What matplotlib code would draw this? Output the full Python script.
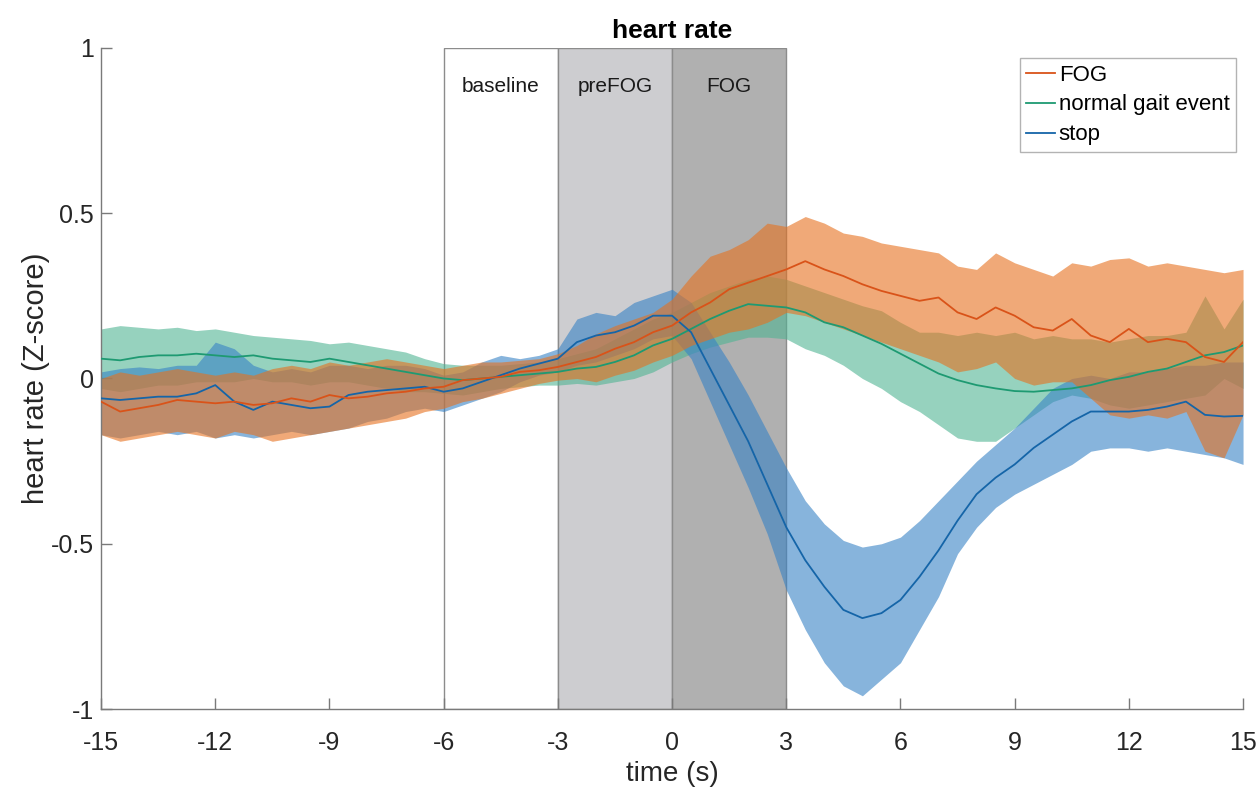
import numpy as np
import matplotlib
matplotlib.use("Agg")
import matplotlib.pyplot as plt

plt.rcParams['font.family'] = ['Liberation Sans', 'DejaVu Sans']

# time grid of the traces (s)
t = np.arange(-15, 15.5, 0.5)

# FOG (orange): mean and band edges
fog_mean = [-0.07, -0.10, -0.09, -0.08, -0.065, -0.07, -0.075, -0.07, -0.08, -0.075,
            -0.06, -0.07, -0.05, -0.06, -0.055, -0.045, -0.04, -0.03, -0.025, -0.005,
            0.0, 0.005, 0.02, 0.025, 0.035, 0.05, 0.065, 0.09, 0.11, 0.14,
            0.16, 0.2, 0.23, 0.27, 0.29, 0.31, 0.33, 0.355, 0.33, 0.31,
            0.285, 0.265, 0.25, 0.235, 0.245, 0.2, 0.18, 0.215, 0.19, 0.155,
            0.145, 0.18, 0.13, 0.11, 0.15, 0.11, 0.12, 0.11, 0.065, 0.05, 0.11]
fog_hi = [0.0, 0.02, 0.01, 0.02, 0.03, 0.02, 0.01, 0.02, 0.01, 0.03,
          0.04, 0.03, 0.05, 0.04, 0.05, 0.06, 0.05, 0.04, 0.03, 0.04,
          0.05, 0.05, 0.055, 0.06, 0.075, 0.10, 0.135, 0.16, 0.18, 0.20,
          0.24, 0.31, 0.37, 0.39, 0.42, 0.47, 0.46, 0.49, 0.47, 0.44,
          0.43, 0.41, 0.40, 0.39, 0.38, 0.34, 0.33, 0.38, 0.35, 0.33,
          0.31, 0.35, 0.34, 0.36, 0.365, 0.34, 0.35, 0.34, 0.33, 0.32, 0.33]
fog_lo = [-0.17, -0.19, -0.18, -0.17, -0.16, -0.17, -0.18, -0.16, -0.17, -0.19,
          -0.18, -0.17, -0.16, -0.15, -0.14, -0.13, -0.12, -0.10, -0.09, -0.07,
          -0.06, -0.045, -0.03, -0.015, -0.005, 0.0, -0.01, 0.01, 0.025, 0.05,
          0.07, 0.10, 0.12, 0.14, 0.15, 0.17, 0.20, 0.19, 0.17, 0.15,
          0.13, 0.11, 0.09, 0.07, 0.05, 0.02, 0.03, 0.05, 0.0, -0.02,
          -0.01, -0.01, -0.06, -0.11, -0.12, -0.11, -0.12, -0.10, -0.22, -0.24, -0.11]

# normal gait event (green)
gait_mean = [0.06, 0.055, 0.065, 0.07, 0.07, 0.075, 0.07, 0.065, 0.07, 0.06,
             0.055, 0.05, 0.06, 0.05, 0.04, 0.03, 0.02, 0.01, 0.0, -0.005,
             0.0, 0.005, 0.01, 0.015, 0.02, 0.03, 0.035, 0.05, 0.07, 0.10,
             0.12, 0.15, 0.18, 0.205, 0.225, 0.22, 0.215, 0.20, 0.17, 0.155,
             0.13, 0.105, 0.075, 0.045, 0.015, -0.005, -0.02, -0.03, -0.038, -0.04,
             -0.035, -0.03, -0.02, -0.005, 0.005, 0.02, 0.03, 0.05, 0.07, 0.08, 0.10]
gait_hi = [0.15, 0.16, 0.155, 0.15, 0.155, 0.145, 0.15, 0.14, 0.13, 0.125,
           0.12, 0.115, 0.105, 0.11, 0.10, 0.09, 0.08, 0.06, 0.045, 0.04,
           0.04, 0.04, 0.045, 0.05, 0.06, 0.075, 0.09, 0.12, 0.15, 0.18,
           0.20, 0.23, 0.26, 0.28, 0.30, 0.31, 0.30, 0.28, 0.26, 0.24,
           0.22, 0.205, 0.17, 0.14, 0.14, 0.13, 0.14, 0.13, 0.14, 0.12,
           0.13, 0.12, 0.12, 0.11, 0.12, 0.13, 0.13, 0.14, 0.25, 0.15, 0.24]
gait_lo = [-0.03, -0.04, -0.03, -0.02, -0.02, -0.01, -0.01, -0.01, 0.0, -0.01,
           -0.01, -0.02, -0.01, -0.01, -0.02, -0.03, -0.04, -0.04, -0.045, -0.05,
           -0.04, -0.03, -0.025, -0.02, -0.02, -0.015, -0.02, -0.01, 0.0, 0.02,
           0.05, 0.075, 0.095, 0.11, 0.125, 0.125, 0.12, 0.09, 0.07, 0.04,
           0.0, -0.03, -0.07, -0.10, -0.14, -0.18, -0.19, -0.19, -0.15, -0.11,
           -0.07, -0.05, -0.06, -0.08, -0.09, -0.08, -0.07, -0.06, -0.05, 0.0, -0.03]

# stop (blue)
stop_mean = [-0.06, -0.065, -0.06, -0.055, -0.055, -0.045, -0.02, -0.07, -0.095, -0.07,
             -0.08, -0.09, -0.085, -0.05, -0.04, -0.035, -0.03, -0.025, -0.04, -0.03,
             -0.01, 0.01, 0.03, 0.045, 0.06, 0.11, 0.13, 0.14, 0.16, 0.19,
             0.19, 0.14, 0.03, -0.08, -0.19, -0.32, -0.45, -0.55, -0.63, -0.70,
             -0.725, -0.71, -0.67, -0.60, -0.52, -0.43, -0.35, -0.30, -0.26, -0.21,
             -0.17, -0.13, -0.10, -0.10, -0.10, -0.095, -0.085, -0.07, -0.11, -0.115, -0.113]
stop_hi = [0.02, 0.03, 0.035, 0.03, 0.04, 0.04, 0.11, 0.09, 0.04, 0.02,
           0.03, 0.02, 0.04, 0.04, 0.03, 0.04, 0.04, 0.03, 0.01, 0.02,
           0.05, 0.07, 0.06, 0.07, 0.09, 0.18, 0.20, 0.19, 0.23, 0.25,
           0.27, 0.23, 0.14, 0.05, -0.05, -0.16, -0.27, -0.37, -0.44, -0.49,
           -0.51, -0.50, -0.48, -0.43, -0.37, -0.31, -0.25, -0.20, -0.15, -0.09,
           -0.03, 0.0, 0.01, 0.0, 0.02, 0.02, 0.03, 0.04, 0.04, 0.05, 0.05]
stop_lo = [-0.17, -0.18, -0.17, -0.16, -0.17, -0.16, -0.18, -0.17, -0.18, -0.17,
           -0.16, -0.17, -0.16, -0.15, -0.13, -0.12, -0.10, -0.09, -0.10, -0.08,
           -0.06, -0.04, -0.01, 0.01, 0.02, 0.04, 0.05, 0.07, 0.09, 0.12,
           0.13, 0.06, -0.07, -0.20, -0.33, -0.47, -0.64, -0.76, -0.86, -0.93,
           -0.96, -0.91, -0.86, -0.76, -0.66, -0.53, -0.45, -0.39, -0.35, -0.32,
           -0.29, -0.26, -0.22, -0.21, -0.21, -0.22, -0.21, -0.22, -0.23, -0.24, -0.26]

# phase windows
phases = ["baseline", "preFOG", "FOG"]
phase_start = [-6, -3, 0]
phase_color = ["white", "#CDCDD0", "#B0B0B0"]

fig = plt.figure(figsize=(12.57, 7.97), dpi=100)
ax = fig.add_axes([0.0804, 0.1104, 0.9085, 0.8294])

for name, s, c in zip(phases, phase_start, phase_color):
    ax.add_patch(plt.Rectangle((s, -1), 3, 2, facecolor=c, edgecolor="#8C8C8C",
                               linewidth=1.0, zorder=0))
    ax.text(s + 1.5, 0.884, name, ha="center", va="center", fontsize=15,
            color="#1A1A1A", zorder=5)

series = [
    ("normal gait event", gait_mean, gait_lo, gait_hi, "#1E9A72", "#50B493"),
    ("stop", stop_mean, stop_lo, stop_hi, "#1565A8", "#3782C5"),
    ("FOG", fog_mean, fog_lo, fog_hi, "#D95319", "#E6711E"),
]
handles = {}
for name, m, lo, hi, lc, fc in series:
    ax.fill_between(t, lo, hi, color=fc, alpha=0.6, linewidth=0, zorder=2)
    h, = ax.plot(t, m, color=lc, linewidth=1.3, zorder=3, label=name)
    handles[name] = h

leg = ax.legend([handles["FOG"], handles["normal gait event"], handles["stop"]],
                ["FOG", "normal gait event", "stop"],
                loc="upper right", bbox_to_anchor=(0.994, 0.985), fontsize=16,
                frameon=True, fancybox=False, edgecolor="#A0A0A0",
                handlelength=1.3, handletextpad=0.15, borderpad=0.3,
                labelspacing=0.4, borderaxespad=0.0)
leg.get_frame().set_linewidth(1.0)

ax.set_xlim(-15, 15)
ax.set_ylim(-1, 1)
ax.set_xticks([-15, -12, -9, -6, -3, 0, 3, 6, 9, 12, 15])
ax.set_yticks([-1, -0.5, 0, 0.5, 1])
ax.set_yticklabels(["-1", "-0.5", "0", "0.5", "1"])
ax.set_xticklabels(["-15", "-12", "-9", "-6", "-3", "0", "3", "6", "9", "12", "15"])
ax.tick_params(direction="in", length=8, width=1.0, color="#7A7A7A",
               labelcolor="#262626", labelsize=18)
ax.tick_params(axis="x", pad=16)
ax.tick_params(axis="y", pad=5)
for side in ["top", "right"]:
    ax.spines[side].set_visible(False)
for side in ["left", "bottom"]:
    ax.spines[side].set_color("#7A7A7A")
    ax.spines[side].set_linewidth(1.0)

ax.set_xlabel("time (s)", fontsize=20, labelpad=4, color="#262626")
ax.set_ylabel("heart rate (Z-score)", fontsize=21, labelpad=1, color="#262626")
ax.set_title("heart rate", fontsize=19, fontweight="bold", pad=7)

fig.savefig("out.png", dpi=100)
